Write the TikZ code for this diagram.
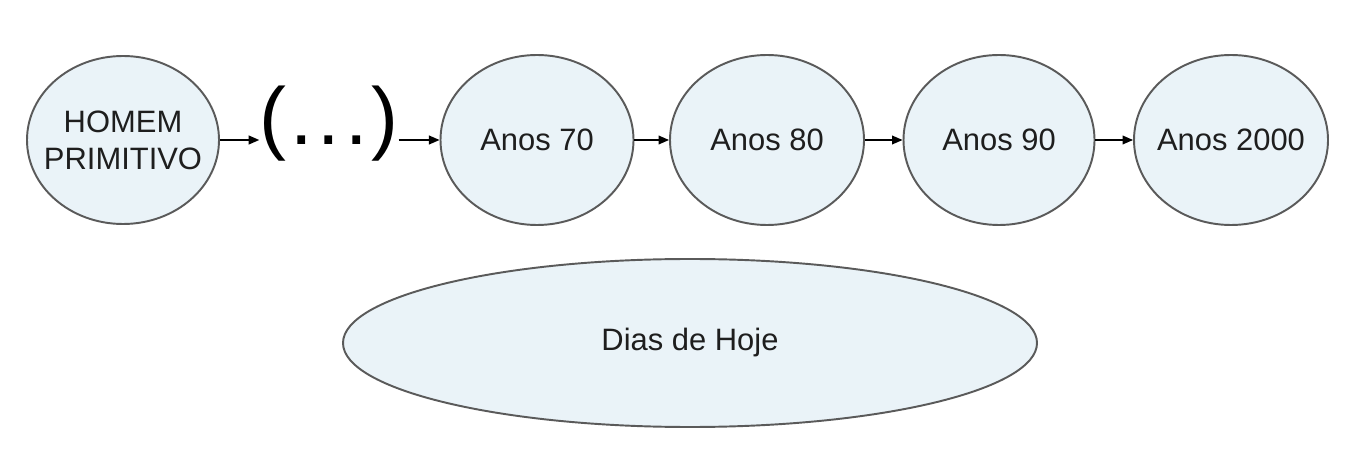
\documentclass[tikz,border=0pt]{standalone}
\usepackage{fontspec}
\setmainfont{Liberation Sans}
\usetikzlibrary{shapes.geometric,arrows.meta}
\definecolor{fillblue}{HTML}{EAF3F8}
\definecolor{edgegray}{HTML}{5A5A5A}
\definecolor{inktext}{HTML}{1E1E1E}
\tikzset{
  era/.style={ellipse, draw=edgegray, line width=1.1pt, fill=fillblue, inner sep=0pt,
    label={[font=\fontsize{17.6}{21}\selectfont, text=inktext, align=center]center:#1}},
  link/.style={-{Triangle[length=6pt,width=5pt]}, line width=0.8pt, black}
}
\begin{document}
\begin{tikzpicture}[x=0.02cm,y=-0.02cm]
\fill[white] (0,0) rectangle (1348,462);
\useasboundingbox (0,0) rectangle (1348,462);
\node[era={HOMEM\\PRIMITIVO}, minimum width=192*0.02cm, minimum height=168*0.02cm] (homem) at (123,140) {};
\node[inner sep=0pt, font=\fontsize{46}{50}\selectfont] (dots) at (329,124) {(\kern2pt.\kern3pt.\kern3pt.\kern2pt)};
\node[era={Anos 70}, minimum width=193*0.02cm, minimum height=170*0.02cm] (a70) at (537,140) {};
\node[era={Anos 80}, minimum width=194*0.02cm, minimum height=170*0.02cm] (a80) at (767,140) {};
\node[era={Anos 90}, minimum width=191*0.02cm, minimum height=170*0.02cm] (a90) at (999,140) {};
\node[era={Anos 2000}, minimum width=194*0.02cm, minimum height=170*0.02cm] (a2000) at (1231,140) {};
\node[era={Dias de Hoje}, minimum width=694*0.02cm, minimum height=168*0.02cm] (hoje) at (690,343) {};
\draw[link] (homem.east) -- (homem.east -| dots.west);
\draw[link] (a70.west -| dots.east) -- (a70.west);
\draw[link] (a70) -- (a80);
\draw[link] (a80) -- (a90);
\draw[link] (a90) -- (a2000);
\end{tikzpicture}
\end{document}
